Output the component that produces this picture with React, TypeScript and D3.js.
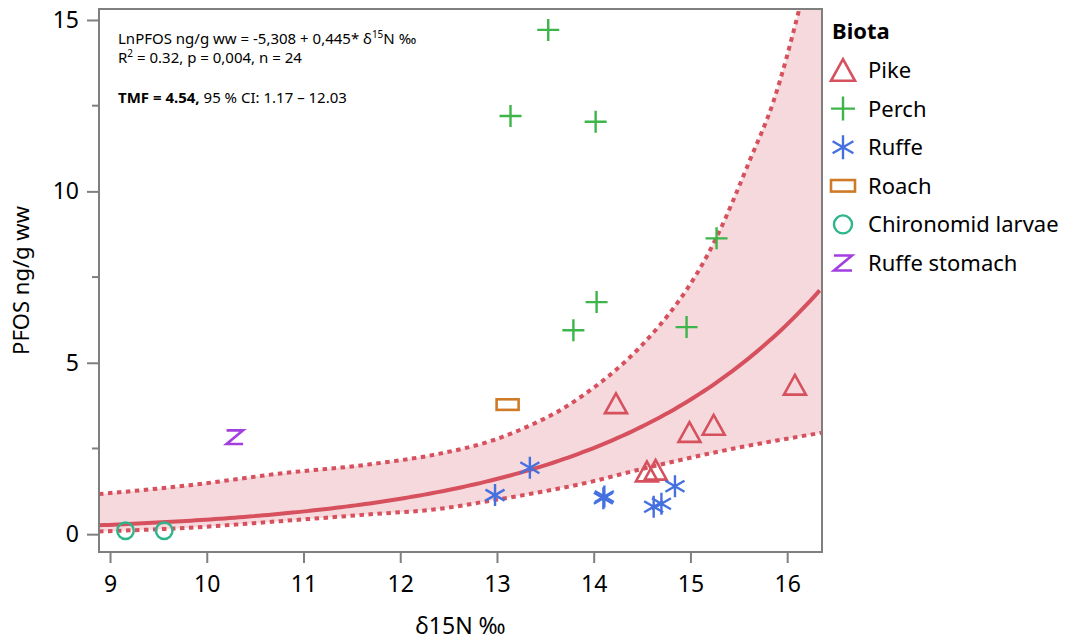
import * as d3 from "d3";
import { useEffect, useRef } from "react";

// regression shown in the chart: ln(PFOS) = a + b * d15N
const fitA = -5.308;
const fitB = 0.445;

// confidence band
const bandUpperN = [8.886, 9.83, 10.76, 11.69, 12.41, 12.96, 13.34, 13.65, 13.89, 14.14, 14.34, 14.48, 15.27, 15.62, 15.86, 16.125, 16.36];
const bandUpperV = [1.17, 1.43, 1.77, 2.04, 2.35, 2.74, 3.17, 3.61, 4.05, 4.58, 5.07, 5.46, 8.66, 10.95, 12.64, 15.32, 18.2];
const bandLowerN = [8.886, 9.83, 10.76, 11.69, 12.41, 12.96, 13.45, 13.96, 14.38, 15.31, 16.36];
const bandLowerV = [0.08, 0.19, 0.38, 0.58, 0.74, 0.99, 1.23, 1.52, 1.82, 2.42, 2.96];

const pikeN = [14.23, 14.55, 14.64, 14.99, 15.24, 16.08];
const pikeV = [3.82, 1.83, 1.88, 2.98, 3.19, 4.36];
const perchN = [13.53, 13.14, 14.02, 15.27, 14.03, 13.79, 14.96];
const perchV = [14.71, 12.2, 12.03, 8.63, 6.77, 5.95, 6.04];
const ruffeN = [12.98, 13.34, 14.1, 14.11, 14.62, 14.7, 14.84];
const ruffeV = [1.14, 1.94, 1.05, 1.1, 0.8, 0.89, 1.4];
const roachN = [13.11];
const roachV = [3.78];
const chiroN = [9.16, 9.56];
const chiroV = [0.1, 0.1];
const stomachN = [10.29];
const stomachV = [2.83];

const groups = ["Pike", "Perch", "Ruffe", "Roach", "Chironomid larvae", "Ruffe stomach"];
const colors = ["#d6505d", "#3db54a", "#4470e0", "#cf7a27", "#2eb58c", "#a33fe0"];
const shapes = ["triangle", "plus", "star", "rect", "circle", "z"];

const xTicks = [9, 10, 11, 12, 13, 14, 15, 16];
const yTicks = [0, 5, 10, 15];
const yMinor = [2.5, 7.5, 12.5];

const W = 1092, H = 640;
const L = 99, R = 822, T = 9, B = 552;

function marker(g, shape, color, s) {
  // s = half size
  if (shape === "triangle") {
    g.append("path").attr("d", `M0,${-s * 0.9}L${s},${s * 0.9}L${-s},${s * 0.9}Z`)
      .attr("fill", "none").attr("stroke", color).attr("stroke-width", 2.6).attr("stroke-linejoin", "miter");
  } else if (shape === "plus") {
    g.append("path").attr("d", `M${-s},0H${s}M0,${-s}V${s}`).attr("stroke", color).attr("stroke-width", 2.4);
  } else if (shape === "star") {
    const p = d3.range(3).map((i) => {
      const a = Math.PI / 2 + (i * Math.PI) / 3;
      return `M${s * Math.cos(a)},${-s * Math.sin(a)}L${-s * Math.cos(a)},${s * Math.sin(a)}`;
    }).join("");
    g.append("path").attr("d", p).attr("stroke", color).attr("stroke-width", 2.4);
  } else if (shape === "rect") {
    g.append("rect").attr("x", -s).attr("y", -s * 0.48).attr("width", 2 * s).attr("height", s * 0.96)
      .attr("fill", "none").attr("stroke", color).attr("stroke-width", 2.6);
  } else if (shape === "circle") {
    g.append("circle").attr("r", s * 0.75).attr("fill", "none").attr("stroke", color).attr("stroke-width", 2.4);
  } else {
    const w = s * 0.75, h = s * 0.62;
    g.append("path").attr("d", `M${-w},${-h}H${w}L${-w},${h}H${w}`)
      .attr("fill", "none").attr("stroke", color).attr("stroke-width", 2.6);
  }
}

export default function App() {
  const ref = useRef(null);

  useEffect(() => {
    const svg = d3.select(ref.current);
    svg.selectAll("*").remove();

    const x = d3.scaleLinear().domain([8.886, 16.36]).range([L, R]);
    const y = d3.scaleLinear().domain([-0.52, 15.32]).range([B, T]);

    svg.append("rect").attr("width", W).attr("height", H).attr("fill", "#fff");

    svg.append("clipPath").attr("id", "plot").append("rect")
      .attr("x", L).attr("y", T).attr("width", R - L).attr("height", B - T);

    const plot = svg.append("g").attr("clip-path", "url(#plot)");

    const upper = bandUpperN.map((n, i) => [n, bandUpperV[i]]);
    const lower = bandLowerN.map((n, i) => [n, bandLowerV[i]]);
    const line = d3.line().x((d) => x(d[0])).y((d) => y(d[1])).curve(d3.curveMonotoneX);

    // band area: upper forward, lower backward
    const upperPath = line(upper);
    const lowerRev = line(lower.slice().reverse()).replace(/^M/, "L");
    plot.append("path").attr("d", upperPath + lowerRev + "Z").attr("fill", "#f5d9dd");

    plot.append("path").attr("d", upperPath).attr("fill", "none")
      .attr("stroke", "#d6505d").attr("stroke-width", 4).attr("stroke-dasharray", "4.5 4.5");
    plot.append("path").attr("d", line(lower)).attr("fill", "none")
      .attr("stroke", "#d6505d").attr("stroke-width", 4).attr("stroke-dasharray", "4.5 4.5");

    const fitN = d3.range(8.886, 16.37, 0.05);
    const fit = d3.line().x((n) => x(n)).y((n) => y(Math.exp(fitA + fitB * n)));
    plot.append("path").attr("d", fit(fitN)).attr("fill", "none")
      .attr("stroke", "#d6505d").attr("stroke-width", 4);

    const series = [
      [pikeN, pikeV], [perchN, perchV], [ruffeN, ruffeV],
      [roachN, roachV], [chiroN, chiroV], [stomachN, stomachV],
    ];
    series.forEach(([ns, vs], gi) => {
      ns.forEach((n, i) => {
        const g = svg.append("g").attr("transform", `translate(${x(n)},${y(vs[i])})`);
        marker(g, shapes[gi], colors[gi], 11);
      });
    });

    // frame
    svg.append("rect").attr("x", L).attr("y", T).attr("width", R - L).attr("height", B - T)
      .attr("fill", "none").attr("stroke", "#7f7f7f").attr("stroke-width", 2);

    const font = "'Noto Sans', 'Open Sans', sans-serif";

    const xAxis = svg.append("g").attr("transform", `translate(0,${B})`)
      .call(d3.axisBottom(x).tickValues(xTicks).tickSize(11).tickPadding(13).tickFormat(d3.format("d")));
    xAxis.select(".domain").remove();
    xAxis.selectAll("line").attr("stroke", "#7f7f7f").attr("stroke-width", 2);
    xAxis.selectAll("text").attr("font-size", 23).attr("font-family", font).attr("fill", "#000");

    const yAxis = svg.append("g").attr("transform", `translate(${L},0)`)
      .call(d3.axisLeft(y).tickValues(yTicks).tickSize(12).tickPadding(8).tickFormat(d3.format("d")));
    yAxis.select(".domain").remove();
    yAxis.selectAll("line").attr("stroke", "#7f7f7f").attr("stroke-width", 2);
    yAxis.selectAll("text").attr("font-size", 23).attr("font-family", font).attr("fill", "#000");

    svg.append("g").selectAll("line").data(yMinor).enter().append("line")
      .attr("x1", L - 7).attr("x2", L).attr("y1", (d) => y(d)).attr("y2", (d) => y(d))
      .attr("stroke", "#7f7f7f").attr("stroke-width", 2);

    svg.append("text").attr("x", (L + R) / 2).attr("y", 634).attr("text-anchor", "middle")
      .attr("font-size", 23).attr("font-family", font).text("δ15N ‰");
    svg.append("text").attr("transform", `translate(29,${(T + B) / 2}) rotate(-90)`)
      .attr("text-anchor", "middle").attr("font-size", 22).attr("font-family", font).text("PFOS ng/g ww");

    // annotation
    const af = "'Noto Sans', sans-serif";
    const t1 = svg.append("text").attr("x", 118).attr("y", 44).attr("font-size", 15).attr("font-family", af);
    t1.append("tspan").text("LnPFOS ng/g ww = -5,308 + 0,445* δ");
    t1.append("tspan").attr("font-size", 10).attr("dy", -6).text("15");
    t1.append("tspan").attr("dy", 6).text("N ‰");
    const t2 = svg.append("text").attr("x", 118).attr("y", 63).attr("font-size", 15).attr("font-family", af);
    t2.append("tspan").text("R");
    t2.append("tspan").attr("font-size", 10).attr("dy", -6).text("2");
    t2.append("tspan").attr("dy", 6).text(" = 0.32, p = 0,004, n = 24");
    const t3 = svg.append("text").attr("x", 118).attr("y", 103).attr("font-size", 15).attr("font-family", af);
    t3.append("tspan").attr("font-weight", "bold").text("TMF = 4.54,");
    t3.append("tspan").text(" 95 % CI: 1.17 – 12.03");

    // legend
    svg.append("text").attr("x", 832).attr("y", 39).attr("font-size", 22).attr("font-weight", "bold")
      .attr("font-family", font).text("Biota");
    groups.forEach((name, i) => {
      const cy = 70 + i * 38.6;
      const g = svg.append("g").attr("transform", `translate(843,${cy})`);
      marker(g, shapes[i], colors[i], 12);
      svg.append("text").attr("x", 868).attr("y", cy + 8).attr("font-size", 22)
        .attr("font-family", font).text(name);
    });
  }, []);

  return (
    <svg ref={ref} width={W} height={H} style={{ position: "absolute", left: 0, top: 0 }} />
  );
}
